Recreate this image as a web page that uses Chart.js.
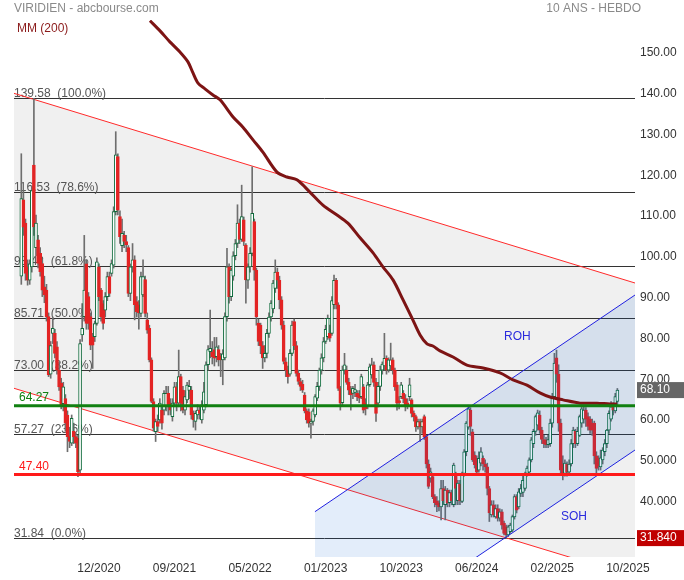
<!DOCTYPE html>
<html>
<head>
<meta charset="utf-8">
<script src="https://cdn.jsdelivr.net/npm/chart.js@4.4.1/dist/chart.umd.min.js"></script>
<style>
  html, body { margin: 0; padding: 0; background: #fff; }
  #wrap { width: 684px; height: 580px; }
</style>
</head>
<body>
<div id="wrap"><canvas id="chart" width="684" height="580"></canvas></div>
<script>
"use strict";

// weekly candles, index 0 = first week on screen
var opens = [
  96,114.7,109,98.3,95,98.3,123.2,103,104.9,101.6,
  99.1,93.4,92.6,86.1,72,82,82,78.7,73,69.8,
  64.8,66,62,56.7,55.1,58,56.7,56.3,48.5,81.6,
  86.1,99,91,86.1,81.2,81.2,84.4,98.3,92.6,89.3,
  87.7,91,95.9,96.7,98.7,111.8,125.3,110.6,103.5,106.1,
  104.5,103,91.8,98.3,100,89.8,89,86.9,91.4,95.2,
  85.3,83.2,75.5,65.3,57.9,60.4,60.8,63.2,63.2,64.1,
  67.3,64.9,61.6,64.9,68.9,64.9,71.4,68.1,63.2,65.7,
  68,68.1,62.4,60.4,62,63.2,60.8,63.2,64.5,74.3,
  77.5,77.5,78,76.3,78,76.5,75.5,76,86.1,98.3,
  91,96,101,104,109,105,109.8,103.6,95,98.3,
  101.6,109.4,97.5,84.5,84,79,76,77.1,82,86,
  88,93,97,95,90.2,84,75,73,72,77.1,
  84.9,79,72.2,70.2,69.5,66.9,63,62.8,60,60.4,
  62,66.1,69,73,76,80,81.2,82,82,89,
  95,89,68.5,65,73,73,70,68.1,67.3,67.5,
  67.3,67,66.5,68.9,65,64,69.4,71.8,74.3,70,
  64.9,69,73,74,75.9,73,74,75.5,73,69.4,
  65.5,66.5,67.3,66,65,66.5,65.7,62.4,61.6,59.1,
  60.4,59.1,61.6,56.7,50,46.5,46.9,42,41,40.5,
  39.5,44,40,43.6,40.5,43,40,47,41,45,
  40.8,47.7,53,59,63.2,57.9,52.2,51.4,48.5,50.2,
  51.4,50,49.3,44,37.5,40,37,39.1,36.7,38.3,
  35.5,34.6,32.6,33.4,33.8,37,42,39.5,42.8,43,
  44,47.7,48,51,55,58,59.5,62,58.3,56,
  55.9,54.7,55,60,66.5,76,72,60,50,47.7,
  50,48,50,55,58,55,57,60,61,63.2,
  61.6,61,60,60,52,51.4,49.3,51,53,55,
  58.3,61,64,63,65.3
];
var highs = [
  126,117,110,100,100,118,139.58,111,106,103,
  100,96,94,87,80,86,83,80,75,71,
  70,67,63,59,62,60,57.5,57,80.5,89.3,
  106,100,92,87,82,85,100.5,99,93,90,
  92,97,97,100,113,131.4,126,112,110,107,
  106,103.5,99,104,101,91,90,97,100,96,
  87,84,76,66,61,62,66,64,68,69,
  69,66,66,70,70,77.9,72,69,68,70,
  70.5,69,63,63,64.5,64,65.5,70,75,79,
  87.7,80,81,81,79,77.1,78,87,102.8,99,
  98,102,105,113.5,110,118.3,110.5,104,99,103,
  122.8,110,98,85.5,84.5,80,79,83,87,90,
  95,100,98,96,91,85,76,74,78,85,
  85.5,80,73,71,70.5,67.5,63.5,63.5,61,63.5,
  67,70,73.5,77,81,84,86.5,84,91,96.3,
  95.5,89.5,69,74,77.1,74,71,69,69,69.5,
  68,68,72,69.5,66,70,74.5,75.9,75,71,
  70,74,75,82,76.5,76,79.6,76,73.5,70,
  66.5,70,68,67,66,71,66,63,62,61,
  61,61,62,57,51,49,47.5,42.5,42,41,
  46,46,44.5,44,43.6,43.6,50.2,48,46,46,
  48,53.5,60.4,64.4,63.8,58.5,53,52,53,54,
  52,51,50.2,44.5,41,41,40,40,39,38.8,
  36,35,35,35.5,37.5,42.5,42.5,44,45,47,
  48,49.5,51.5,56.5,58.5,62,63.2,63,59,57,
  56.5,57,61,67.3,77.1,77.9,74.3,61,52,51,
  50.5,51,56,59,58.5,59,62,64.4,64.4,63.8,
  62.5,61.6,61,60.5,53,52,53.4,54,56,58.5,
  63,65.3,65,67.3,68.5
];
var lows = [
  94,106,95,93.8,94,97,106,101,98,96,
  91,89.5,85,71.4,71,79.5,76,72,68,63.5,
  63,58,53,54,54.5,55,54,46.9,47.5,80,
  85,83,83,78,73.4,80,84,90,85,83,
  86,90,91,96,98,111,111,104,102,103,
  102,91,90,97,85.3,86,83,86,91,86,
  82,75,65,58,55.5,58,60,58.5,62,63,
  62,62,60.5,64,63,64,63,62.5,62,65,
  66,61,59,58.3,61,61,60,62.5,64,73,
  76,74.5,74,75,74,71.4,69.4,75.5,85,89.4,
  90,95,100,103,104,104.5,103.5,89.4,93,97,
  101,95,84,79,77,73.4,75,76,81,85,
  87,92,93,88,83,74.5,71.4,69.8,71.5,76.5,
  78,71.5,69.5,68,67.5,62.5,60,59,56.3,59.5,
  61.5,65.5,68,72,75,79.5,80.5,80,81.5,88,
  88,68,63.2,64.5,72,69.5,67,63.2,66,66.5,
  65.5,65,66,62.5,62,63.5,69,71,69,60.4,
  64,68,72,73,72,72.5,73,72,68,63.2,
  63.5,66,65,63,63.5,65.5,61.5,60.5,58,58.5,
  55.5,57.5,56,49,44,45.5,41.5,39.5,38.3,38.5,
  36.3,40,36.3,39.5,39.5,40,39.5,40,40,40,
  40.5,47,52,58.5,57,50.6,49,47.7,48,49.5,
  48.5,48,42.4,35.9,37,37,36.7,36,36,34,
  32.6,31.84,32.2,33,33.4,36.5,38,39,42,42,
  43.5,47,47.5,50.5,54,57,58.3,57.5,55,54,
  54,54,54.3,59,66,70,58,47.3,46.1,47,
  47,47.5,49.5,54,54,54.5,56.7,59,60,59.2,
  58.3,57.5,57,50,47.7,48.5,48.5,50,52,54,
  57.5,60.5,62,62.5,64.5
];
var closes = [
  115,108,96.7,95,99,117,108.1,109,99.1,97.1,
  92.6,91.4,86.1,71.8,79,83.2,77.1,73,68.9,64.5,
  68.9,60,56.7,55.5,61.2,56.7,55.1,48.1,79.5,83.2,
  92.6,84.4,84.4,79.1,79.1,84.4,99.5,91,86.1,84.4,
  91,95.9,91.8,99.1,111.8,125.7,112.2,105.7,106.5,104.5,
  103.7,91.8,98.3,100,89,87.3,87,95.9,95.9,86.9,
  82.8,75.5,65.3,58.8,60.4,59.2,64.9,60,67.3,67.3,
  64,63.2,64.9,68.9,64.9,71.4,64.9,63.2,66.5,69.3,
  69,62,60.8,62.4,63.2,62.4,64.5,67.7,74.3,78,
  78.3,76.3,75.9,78.7,75.5,75.5,77,86.1,98.3,91,
  97.5,101,104,109,105,110.6,104.5,95.1,98.3,101.6,
  111.4,97.5,86,80,79,76,77.1,82,86,89.4,
  94.3,97,95,90.2,84,75.1,73,71.4,77.1,84,
  79,72.2,70.2,69,68.1,63,60.8,60,60.4,63,
  66.5,69,73,76,80,83,85.7,80.8,90,95,
  89,68.5,64.9,73,74.3,70,68.1,66.9,68.5,68.2,
  66.5,66.1,71.4,63.2,63.5,69.4,73.8,74.3,70,62.4,
  69,73,74.5,75.9,73,75.5,75.5,73,68.9,64.9,
  65,69.4,66,64,64.2,69.4,62.4,61.6,59.1,60.4,
  59.1,60.4,56.7,50,44.5,48.1,42,40.5,40,39.5,
  44,41,43.6,40.4,43,41,49.7,44,45.3,41,
  47.7,53,60,63.5,59.2,51,49.8,48,51.4,53,
  50,49.3,44,38,40,37.5,39.1,36.7,38.3,35,
  33,32.6,34.6,35,37.1,42,38.7,43.2,44,46,
  47.7,49,51,55.9,58,61.6,62.5,58.3,56,55,
  54.7,56,60,66.5,74.7,72,60,48.5,47.5,50.2,
  48,50,55,58.3,55,58,61.6,63.5,63.2,61,
  59.2,58.3,58.3,52,48.9,49.5,51.5,53.4,55,58.3,
  62.4,64,63.2,66.5,68.1
];

// 200-week moving average (week index / value)
var maWeeks = [61.3,66.1,70.8,75.6,79.4,81.8,84.2,87.5,91.3,94.7,100.9,105.6,110.4,115.1,121.8,126.6,131.3,137.5,143.7,150.4,155.6,161.4,167.6,172.3,177.1,181.9,186.1,190,193.3,196.1,199.5,205.7,212.3,220,228.1,234.3,240.9,247.1,251.9,258.1,266.2,274.3,280.5,283.8];
var maValues = [158.6,156.1,153.4,150.9,148.5,145.8,143.3,141.9,140.4,139.2,135,132.5,129.4,126.4,121.5,120.3,119.6,116.6,113.4,111,109,105.4,101.7,98.3,95.1,90.2,85.8,81.6,79.4,78.9,77.7,76.2,74.2,73.5,72.3,70.6,69.3,67.4,66.4,65.7,64.9,64.9,64.7,64.7];

// bottom axis labels (week index of each)
var dateTicks = [37, 73, 109, 145, 181, 217, 253, 289];
var dateLabels = ['12/2020', '09/2021', '05/2022', '01/2023', '10/2023', '06/2024', '02/2025', '10/2025'];
var priceTicks = [30, 40, 50, 60, 70, 80, 90, 100, 110, 120, 130, 140, 150];

// Fibonacci retracement
var fibLevels = [139.58, 116.53, 98.42, 85.71, 73.00, 57.27, 31.84];
var fibLabels = ['139.58  (100.0%)', '116.53  (78.6%)', '98.42  (61.8%)', '85.71  (50.0%)', '73.00  (38.2%)', '57.27  (23.6%)', '31.84  (0.0%)'];

// horizontal support lines
var supportLevels = [64.27, 47.40];
var supportNames = ['64.27', '47.40'];

// trend channels, [week, price] at each end
var downUpper = [[-3.48, 140.8], [292.4, 94.33]];
var downLower = [[-3.48, 68.54], [292.4, 22.31]];
var upUpper = [[139.9, 38.31], [292.4, 91.39]];
var upLower = [[139.9, 0.45], [292.4, 53.42]];

var lastPrice = 68.10;
var lowPrice = 31.84;

var FONT = '"Liberation Sans", Arial, sans-serif';
Chart.defaults.font.family = FONT;
Chart.defaults.font.size = 12;

var wickData = [], bodyData = [], bodyFill = [], bodyEdge = [];
for (var i = 0; i < closes.length; i++) {
    wickData.push({ x: i, y: [lows[i], highs[i]] });
    bodyData.push({ x: i, y: [Math.min(opens[i], closes[i]), Math.max(opens[i], closes[i])] });
    var up = closes[i] >= opens[i];
    bodyFill.push(up ? '#ffffff' : '#e32424');
    bodyEdge.push(up ? '#0f6b3c' : '#e32424');
}

function pts(pair) {
    return pair.map(function (p) { return { x: p[0], y: p[1] }; });
}

var overlay = {
    id: 'overlay',
    beforeDraw: function (chart) {
        var ctx = chart.ctx;
        ctx.save();
        ctx.fillStyle = '#ffffff';
        ctx.fillRect(0, 0, chart.width, chart.height);
        ctx.restore();
    },
    beforeDatasetsDraw: function (chart) {
        var ctx = chart.ctx, a = chart.chartArea, x = chart.scales.x, y = chart.scales.y;
        ctx.save();
        ctx.beginPath();
        ctx.rect(a.left, a.top, a.right - a.left, a.bottom - a.top);
        ctx.clip();

        // grey falling channel
        ctx.fillStyle = '#f0f0f0';
        ctx.beginPath();
        ctx.moveTo(x.getPixelForValue(downUpper[0][0]), y.getPixelForValue(downUpper[0][1]));
        ctx.lineTo(x.getPixelForValue(downUpper[1][0]), y.getPixelForValue(downUpper[1][1]));
        ctx.lineTo(x.getPixelForValue(downLower[1][0]), y.getPixelForValue(downLower[1][1]));
        ctx.lineTo(x.getPixelForValue(downLower[0][0]), y.getPixelForValue(downLower[0][1]));
        ctx.closePath();
        ctx.fill();

        ctx.font = '12px ' + FONT;
        ctx.textAlign = 'left';
        ctx.textBaseline = 'alphabetic';
        fibLevels.forEach(function (v, k) {
            var py = Math.round(y.getPixelForValue(v)) + 0.5;
            ctx.strokeStyle = '#333333';
            ctx.lineWidth = 1;
            ctx.beginPath();
            ctx.moveTo(a.left, py);
            ctx.lineTo(a.right, py);
            ctx.stroke();
            ctx.fillStyle = '#555555';
            ctx.fillText(fibLabels[k], a.left, py - 1.5);
        });
        ctx.restore();
    },
    afterDatasetsDraw: function (chart) {
        var ctx = chart.ctx, a = chart.chartArea, x = chart.scales.x, y = chart.scales.y;
        var colors = ['#118011', '#ff1a1a'];
        ctx.save();
        ctx.font = '12px ' + FONT;
        ctx.textAlign = 'left';
        ctx.textBaseline = 'alphabetic';
        supportLevels.forEach(function (v, k) {
            var py = y.getPixelForValue(v);
            ctx.strokeStyle = colors[k];
            ctx.lineWidth = 3;
            ctx.beginPath();
            ctx.moveTo(a.left, py);
            ctx.lineTo(a.right, py);
            ctx.stroke();
            ctx.fillStyle = colors[k];
            ctx.fillText(supportNames[k], a.left + 5, py - 5);
        });

        ctx.fillStyle = '#2b2bdd';
        ctx.textBaseline = 'middle';
        ctx.fillText('ROH', x.getPixelForValue(230), y.getPixelForValue(81.2));
        ctx.fillText('SOH', x.getPixelForValue(257.1), y.getPixelForValue(37.1));
        ctx.restore();
    },
    afterDraw: function (chart) {
        var ctx = chart.ctx, a = chart.chartArea, y = chart.scales.y;
        ctx.save();
        ctx.font = '12px ' + FONT;
        ctx.textBaseline = 'middle';

        ctx.fillStyle = '#8a8a8a';
        ctx.textAlign = 'left';
        ctx.fillText('VIRIDIEN - abcbourse.com', 14, 9);
        ctx.textAlign = 'right';
        ctx.fillText('10 ANS - HEBDO', 641, 9);

        ctx.fillStyle = '#8b1a1a';
        ctx.textAlign = 'left';
        ctx.fillText('MM (200)', 17, 29);

        // last price and low boxes on the price axis
        var py = y.getPixelForValue(lastPrice);
        ctx.fillStyle = '#666666';
        ctx.fillRect(a.right + 2, py - 8, chart.width - a.right - 2, 16);
        ctx.fillStyle = '#ffffff';
        ctx.fillText(lastPrice.toFixed(2), a.right + 5, py);

        py = y.getPixelForValue(lowPrice);
        ctx.fillStyle = '#c00000';
        ctx.fillRect(a.right + 2, py - 8, chart.width - a.right - 2, 16);
        ctx.fillStyle = '#ffffff';
        ctx.fillText(lowPrice.toFixed(3), a.right + 5, py);
        ctx.restore();
    }
};

var ctx = document.getElementById('chart').getContext('2d');
new Chart(ctx, {
    type: 'bar',
    data: {
        datasets: [
            {
                type: 'line',
                label: 'MM (200)',
                data: maWeeks.map(function (w, k) { return { x: w, y: maValues[k] }; }),
                borderColor: '#7d1414',
                borderWidth: 3,
                pointRadius: 0,
                tension: 0.3,
                fill: false,
                order: 0
            },
            {
                type: 'line',
                data: pts(upUpper),
                borderColor: '#2020e0',
                borderWidth: 1,
                pointRadius: 0,
                fill: '+1',
                backgroundColor: 'rgba(0, 90, 210, 0.11)',
                order: 1
            },
            {
                type: 'line',
                data: pts(upLower),
                borderColor: '#2020e0',
                borderWidth: 1,
                pointRadius: 0,
                fill: false,
                order: 2
            },
            {
                label: 'bodies',
                data: bodyData,
                backgroundColor: bodyFill,
                borderColor: bodyEdge,
                borderWidth: 1,
                borderSkipped: false,
                barThickness: 3,
                minBarLength: 1,
                grouped: false,
                order: 3
            },
            {
                label: 'wicks',
                data: wickData,
                backgroundColor: '#6e6e6e',
                barThickness: 1,
                grouped: false,
                order: 4
            },
            {
                type: 'line',
                data: pts(downUpper),
                borderColor: '#ff2a2a',
                borderWidth: 1,
                pointRadius: 0,
                fill: false,
                order: 5
            },
            {
                type: 'line',
                data: pts(downLower),
                borderColor: '#ff2a2a',
                borderWidth: 1,
                pointRadius: 0,
                fill: false,
                order: 6
            }
        ]
    },
    options: {
        responsive: false,
        animation: false,
        devicePixelRatio: 1,
        events: [],
        layout: { padding: { left: 14, top: 20, right: 0, bottom: 0 } },
        plugins: {
            legend: { display: false },
            tooltip: { enabled: false }
        },
        scales: {
            x: {
                type: 'linear',
                min: -3.48,
                max: 292.4,
                offset: false,
                grid: { display: false, drawTicks: false },
                border: { display: false },
                afterBuildTicks: function (s) {
                    s.ticks = dateTicks.map(function (v) { return { value: v }; });
                },
                afterFit: function (s) {
                    s.height = 23;
                    s.paddingLeft = 0;
                    s.paddingRight = 0;
                },
                ticks: {
                    autoSkip: false,
                    maxRotation: 0,
                    minRotation: 0,
                    padding: 4,
                    color: '#333333',
                    font: { size: 12 },
                    callback: function (value) {
                        var k = dateTicks.indexOf(value);
                        return k >= 0 ? dateLabels[k] : '';
                    }
                }
            },
            y: {
                type: 'linear',
                position: 'right',
                min: 27.21,
                max: 158.76,
                grid: { display: false, drawTicks: false },
                border: { display: false },
                afterBuildTicks: function (s) {
                    s.ticks = priceTicks.map(function (v) { return { value: v }; });
                },
                afterFit: function (s) {
                    s.width = 49;
                    s.paddingTop = 0;
                    s.paddingBottom = 0;
                },
                ticks: {
                    padding: 5,
                    labelOffset: -3,
                    color: '#333333',
                    font: { size: 12 },
                    callback: function (value) {
                        return value >= 60 ? value.toFixed(2) : value.toFixed(3);
                    }
                }
            }
        }
    },
    plugins: [overlay]
});
</script>
</body>
</html>
